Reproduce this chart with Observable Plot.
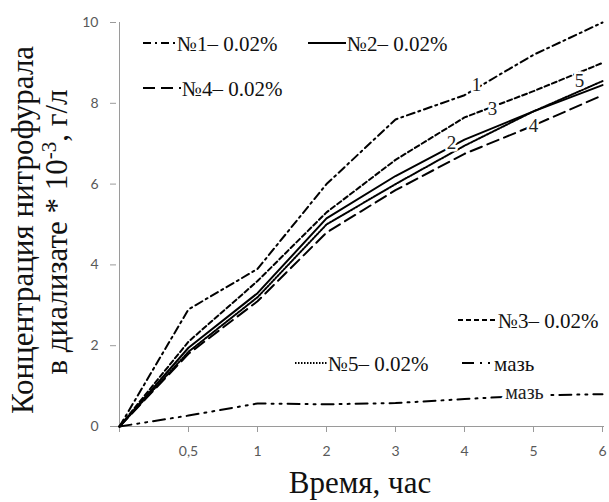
<!DOCTYPE html>
<html>
<head>
<meta charset="utf-8">
<script src="https://cdn.jsdelivr.net/npm/d3@7"></script>
<script src="https://cdn.jsdelivr.net/npm/@observablehq/plot@0.6"></script>
<style>
  html, body { margin: 0; padding: 0; background: white; }
  #chart svg { display: block; }
</style>
</head>
<body>
<div id="chart"></div>
<script>
// ---- data ----
const xCats = ["0", "0.5", "1", "2", "3", "4", "5", "6"];
const xTickLabels = ["", "0,5", "1", "2", "3", "4", "5", "6"];
const yTicks = [0, 2, 4, 6, 8, 10];

const s1 = [0, 2.9, 3.9, 6.0, 7.6, 8.2, 9.2, 10.0];   // №1 dash-dot
const s2 = [0, 1.95, 3.3, 5.15, 6.2, 7.1, 7.8, 8.45]; // №2 solid
const s3 = [0, 2.1, 3.6, 5.3, 6.6, 7.65, 8.3, 9.0];   // №3 short dash
const s4 = [0, 1.8, 3.1, 4.8, 5.85, 6.75, 7.45, 8.2]; // №4 long dash
const s5 = [0, 1.85, 3.2, 5.0, 6.0, 6.95, 7.8, 8.55]; // №5 dotted
const s6 = [0, 0.27, 0.57, 0.55, 0.58, 0.68, 0.77, 0.8]; // мазь

const seriesNames = ["№1– 0.02%", "№2– 0.02%", "№3– 0.02%", "№4– 0.02%", "№5– 0.02%", "мазь"];
const seriesValues = [s1, s2, s3, s4, s5, s6];
const seriesDash = ["8,4,2,4", null, "5,3", "12,6", "1.5,1.5", "12,6,2,6,2,6"];
const lineNumbers = ["1", "2", "3", "4", "5"];

const xTitle = "Время, час";
const yTitle1 = "Концентрация нитрофурала";
const yTitle2a = "в диализате * 10";
const yTitle2sup = "-3";
const yTitle2b = ", г/л";

// ---- tidy rows ----
const rows = seriesValues.flatMap((vals, si) =>
  vals.map((v, i) => ({series: seriesNames[si], si, t: xCats[i], v})));

// inline labels anchored on series points (offsets are layout only)
const labelSpecs = [
  {text: lineNumbers[0], si: 0, i: 5, dx: 12, dy: -10},
  {text: lineNumbers[1], si: 1, i: 5, dx: -13, dy: 3},
  {text: lineNumbers[2], si: 2, i: 5, dx: 28, dy: -9},
  {text: lineNumbers[3], si: 3, i: 6, dx: 0, dy: 0},
  {text: lineNumbers[4], si: 4, i: 7, dx: -23, dy: 0},
  {text: seriesNames[5], si: 5, i: 6, dx: -9, dy: -3, big: true}
].map(d => ({...d, t: xCats[d.i], v: seriesValues[d.si][d.i]}));

const serif = "'Liberation Serif', 'Times New Roman', serif";
const sans = "Lato, 'Open Sans', sans-serif";

const lineMarks = seriesValues.map((vals, si) =>
  Plot.line(rows.filter(r => r.si === si), {
    x: "t", y: "v", stroke: "black", strokeWidth: 2,
    strokeDasharray: seriesDash[si] || undefined
  }));

const chart = Plot.plot({
  width: 609,
  height: 502,
  marginLeft: 116,
  marginRight: 5,
  marginTop: 22,
  marginBottom: 76,
  style: {fontFamily: sans, fontSize: "14px", background: "white", overflow: "visible"},
  x: {type: "point", domain: xCats, padding: 0},
  y: {domain: [0, 10]},
  marks: [
    Plot.ruleX([xCats[0]], {stroke: "#9a9a9a", strokeWidth: 1}),
    Plot.ruleY([0], {stroke: "#9a9a9a", strokeWidth: 1}),
    Plot.axisX({
      ticks: xCats,
      tickFormat: d => xTickLabels[xCats.indexOf(d)],
      tickSize: 6, tickPadding: 14,
      stroke: "#9a9a9a", fill: "#595959",
      fontSize: 14, label: null
    }),
    Plot.axisY({
      ticks: yTicks, tickSize: 6, tickPadding: 12,
      stroke: "#9a9a9a", fill: "#595959",
      fontSize: 14, label: null
    }),
    ...lineMarks,
    Plot.text(labelSpecs.filter(d => !d.big), {
      x: "t", y: "v", text: "text",
      fill: "#222", stroke: "white", strokeWidth: 5,
      fontFamily: serif, fontSize: 19
    }),
    Plot.text(labelSpecs.filter(d => d.big), {
      x: "t", y: "v", text: "text",
      fill: "#222", stroke: "white", strokeWidth: 8,
      fontFamily: serif, fontSize: 20
    })
  ]
});

document.getElementById("chart").appendChild(chart);

// ---- apply per-label pixel offsets (layout only) ----
{
  const svg = d3.select(chart);
  const texts = svg.selectAll("g[aria-label='text'] text").nodes();
  const specs = [...labelSpecs.filter(d => !d.big), ...labelSpecs.filter(d => d.big)];
  texts.forEach((node, k) => {
    const s = specs[k];
    if (!s) return;
    const tr = node.getAttribute("transform") || "";
    node.setAttribute("transform", tr + ` translate(${s.dx},${s.dy})`);
  });
}

// ---- titles and legend ----
{
  const svg = d3.select(chart);
  svg.append("text")
    .attr("x", 360).attr("y", 493)
    .attr("text-anchor", "middle")
    .attr("font-family", serif).attr("font-size", 31).attr("fill", "#111")
    .text(xTitle);
  svg.append("text")
    .attr("transform", "translate(33,230) rotate(-90)")
    .attr("text-anchor", "middle")
    .attr("font-family", serif).attr("font-size", 31).attr("fill", "#111")
    .text(yTitle1);
  const t2 = svg.append("text")
    .attr("transform", "translate(67,232) rotate(-90)")
    .attr("text-anchor", "middle")
    .attr("font-family", serif).attr("font-size", 31).attr("fill", "#111");
  t2.append("tspan").text(yTitle2a);
  t2.append("tspan").attr("dy", -11).attr("font-size", 21).text(yTitle2sup);
  t2.append("tspan").attr("dy", 11).text(yTitle2b);

  const legend = [
    {si: 0, x1: 143, x2: 176, y: 43},
    {si: 1, x1: 308, x2: 346, y: 43},
    {si: 3, x1: 143, x2: 181, y: 88},
    {si: 2, x1: 458, x2: 497, y: 320},
    {si: 4, x1: 295, x2: 327, y: 363},
    {si: 5, x1: 462, x2: 493, y: 363}
  ];
  const lg = svg.append("g").attr("text-anchor", "start");
  legend.forEach(e => {
    lg.append("line")
      .attr("x1", e.x1).attr("x2", e.x2).attr("y1", e.y).attr("y2", e.y)
      .attr("stroke", "black").attr("stroke-width", 2)
      .attr("stroke-dasharray", seriesDash[e.si] || null);
    lg.append("text")
      .attr("x", e.x2 + 1).attr("y", e.y + 8)
      .attr("text-anchor", "start")
      .attr("font-family", serif).attr("font-size", 21).attr("fill", "#111")
      .text(seriesNames[e.si]);
  });
}
</script>
</body>
</html>
